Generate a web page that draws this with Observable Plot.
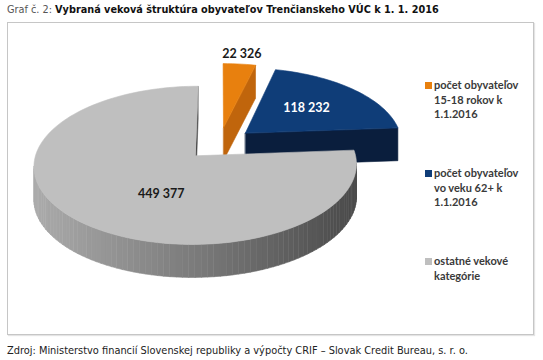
<!DOCTYPE html>
<html><head><meta charset="utf-8">
<script src="https://cdn.jsdelivr.net/npm/d3@7"></script>
<script src="https://cdn.jsdelivr.net/npm/@observablehq/plot@0.6"></script>
<style>
html,body{margin:0;padding:0;background:#fff}
body{width:543px;height:360px;position:relative;overflow:hidden;font-family:"DejaVu Sans",Verdana,sans-serif}
#title{position:absolute;left:7px;top:4px;font-size:9.6px;color:#555;white-space:nowrap}
#title b{color:#111}
#box{position:absolute;left:7px;top:22px;width:527px;height:313px;border:1px solid #c6c6c6;box-sizing:border-box;box-shadow:1px 1px 1px #e4e4e4}
#chart{position:absolute;left:0;top:0}
.leg{position:absolute;font-family:Lato,"Open Sans",sans-serif;font-size:11px;font-weight:700;color:#3a3a3a;line-height:14.5px}
.leg i{position:absolute;left:-9px;top:4px;width:7px;height:7px}
#caption{position:absolute;left:7px;top:345px;font-size:9.6px;color:#222;white-space:nowrap}
</style></head><body>
<div id="title"></div>
<div id="box"><div id="chart"></div></div>
<div id="caption"></div>
<script>
// ---- data ----
const categories = ["počet obyvateľov 15-18 rokov k 1.1.2016", "počet obyvateľov vo veku 62+ k 1.1.2016", "ostatné vekové kategórie"];
const legendLines = [["počet obyvateľov", "15-18 rokov k", "1.1.2016"], ["počet obyvateľov", "vo veku 62+ k", "1.1.2016"], ["ostatné vekové", "kategórie"]];
const values = [22326, 118232, 449377];
const valueLabels = ["22 326", "118 232", "449 377"];
const titlePrefix = "Graf č. 2: ";
const titleText = "Vybraná veková štruktúra obyvateľov Trenčianskeho VÚC k 1. 1. 2016";
const captionText = "Zdroj: Ministerstvo financií Slovenskej republiky a výpočty CRIF – Slovak Credit Bureau, s. r. o.";

// ---- styles ----
const topColors = ["#e8800e", "#0f3d78", "#bfbfbf"];
const sideColors = ["#c0650c", "#0a1e3d", null];
const labelColors = ["#1a1a1a", "#ffffff", "#1a1a1a"];
const grayGrad = ["#ababab", "#4a4a4a"];

// ---- text ----
document.getElementById("title").innerHTML = titlePrefix + "<b>" + titleText + "</b>";
document.getElementById("caption").textContent = captionText;
function fit(el, w){ const cw = el.getBoundingClientRect().width; const fs = parseFloat(getComputedStyle(el).fontSize); el.style.fontSize = (fs * w / cw) + "px"; }
fit(document.getElementById("title"), 432);
fit(document.getElementById("caption"), 461);

// ---- geometry (pseudo-3D exploded pie) ----
const W = 525, Ht = 311, CX = 211, CY = 120;
const RX = 157, RY = 75, K = 0.118, DEPTH = 33, EXPLODE = 0.22, N = 90;
const total = d3.sum(values);
let acc = 0;
const slices = values.map((v, i) => {
  const a0 = acc / total * 2 * Math.PI; acc += v;
  const a1 = acc / total * 2 * Math.PI; const m = (a0 + a1) / 2;
  return {i, a0, a1, m, ox: EXPLODE * Math.sin(m), oy: EXPLODE * Math.cos(m)};
});
function P(u, v, h){ const s = 1 / (1 + K * v); return {X: RX * u * s, Y: RY * v * s - h}; }
function outer(sl, a, h){ return P(sl.ox + Math.sin(a), sl.oy + Math.cos(a), h); }
function apex(sl, h){ return P(sl.ox, sl.oy, h); }
function area(pts){ let s = 0; for (let k = 0; k < pts.length; k++){ const p = pts[k], q = pts[(k+1)%pts.length]; s += p.X * (-q.Y) - q.X * (-p.Y); } return s; }

const rows = []; let pid = 0;
function addPoly(pts, color){ pid++; for (const p of pts) rows.push({id: pid, X: p.X, Y: p.Y, color}); }

const order = [...slices].sort((a, b) => b.oy - a.oy);
for (const sl of order){
  const steps = Math.max(4, Math.ceil((sl.a1 - sl.a0) / (2 * Math.PI) * N * 2));
  const angs = d3.range(steps + 1).map(k => sl.a0 + (sl.a1 - sl.a0) * k / steps);
  // outer side quads
  const quads = [];
  for (let k = 0; k < steps; k++){
    const t1 = outer(sl, angs[k], 0), t2 = outer(sl, angs[k+1], 0);
    if (t2.X < t1.X){
      const q = [t1, t2, outer(sl, angs[k+1], DEPTH), outer(sl, angs[k], DEPTH)];
      quads.push({q, v: Math.cos((angs[k] + angs[k+1]) / 2), xm: (t1.X + t2.X) / 2});
    }
  }
  quads.sort((a, b) => b.v - a.v);
  let xs = quads.map(d => d.xm);
  const gx = d3.scaleLinear().domain([d3.min(xs) ?? 0, d3.max(xs) ?? 1]).range([0, 1]).clamp(true);
  for (const d of quads) addPoly(d.q, sideColors[sl.i] ?? d3.interpolateRgb(grayGrad[0], grayGrad[1])(gx(d.xm)));
  // radial faces
  const endFace = [apex(sl, 0), outer(sl, sl.a1, 0), outer(sl, sl.a1, DEPTH), apex(sl, DEPTH)];
  const startFace = [apex(sl, 0), outer(sl, sl.a0, 0), outer(sl, sl.a0, DEPTH), apex(sl, DEPTH)];
  const sc = sideColors[sl.i] ?? grayGrad[1];
  if (area(endFace) > 50) addPoly(endFace, sc);
  if (area(startFace) < -50) addPoly(startFace, sc);
  // top face
  addPoly([apex(sl, 0), ...angs.map(a => outer(sl, a, 0))], topColors[sl.i]);
}

// labels
const labelR = [1.18, 0.55, 0.5];
const labelShift = [0, 0, -0.35];
const labels = slices.map(sl => {
  const a = sl.m + labelShift[sl.i], r = labelR[sl.i];
  const p = P(sl.ox + r * Math.sin(a), sl.oy + r * Math.cos(a), 0);
  return {X: p.X, Y: p.Y, text: valueLabels[sl.i], color: labelColors[sl.i]};
});

const chart = Plot.plot({
  width: W, height: Ht, margin: 0,
  x: {domain: [-CX, W - CX], axis: null},
  y: {domain: [-(Ht - CY), CY], axis: null},
  color: {type: "identity"},
  marks: [
    Plot.line(rows, {x: "X", y: "Y", z: "id", fill: "color", stroke: "color", strokeWidth: 0.6, curve: "linear-closed"}),
    Plot.text(labels, {x: "X", y: "Y", text: "text", fill: "color", fontSize: 12.5, fontWeight: "bold", fontFamily: "Lato, sans-serif"})
  ]
});
document.getElementById("chart").appendChild(chart);

// legend
const legTops = [77, 165, 253];
legendLines.forEach((lines, i) => {
  const d = document.createElement("div");
  d.className = "leg";
  d.style.left = "426px"; d.style.top = (legTops[i] - 22) + "px";
  d.innerHTML = `<i style="background:${topColors[i]}"></i>` + lines.join("<br>");
  document.getElementById("box").appendChild(d);
});
</script>
</body></html>
